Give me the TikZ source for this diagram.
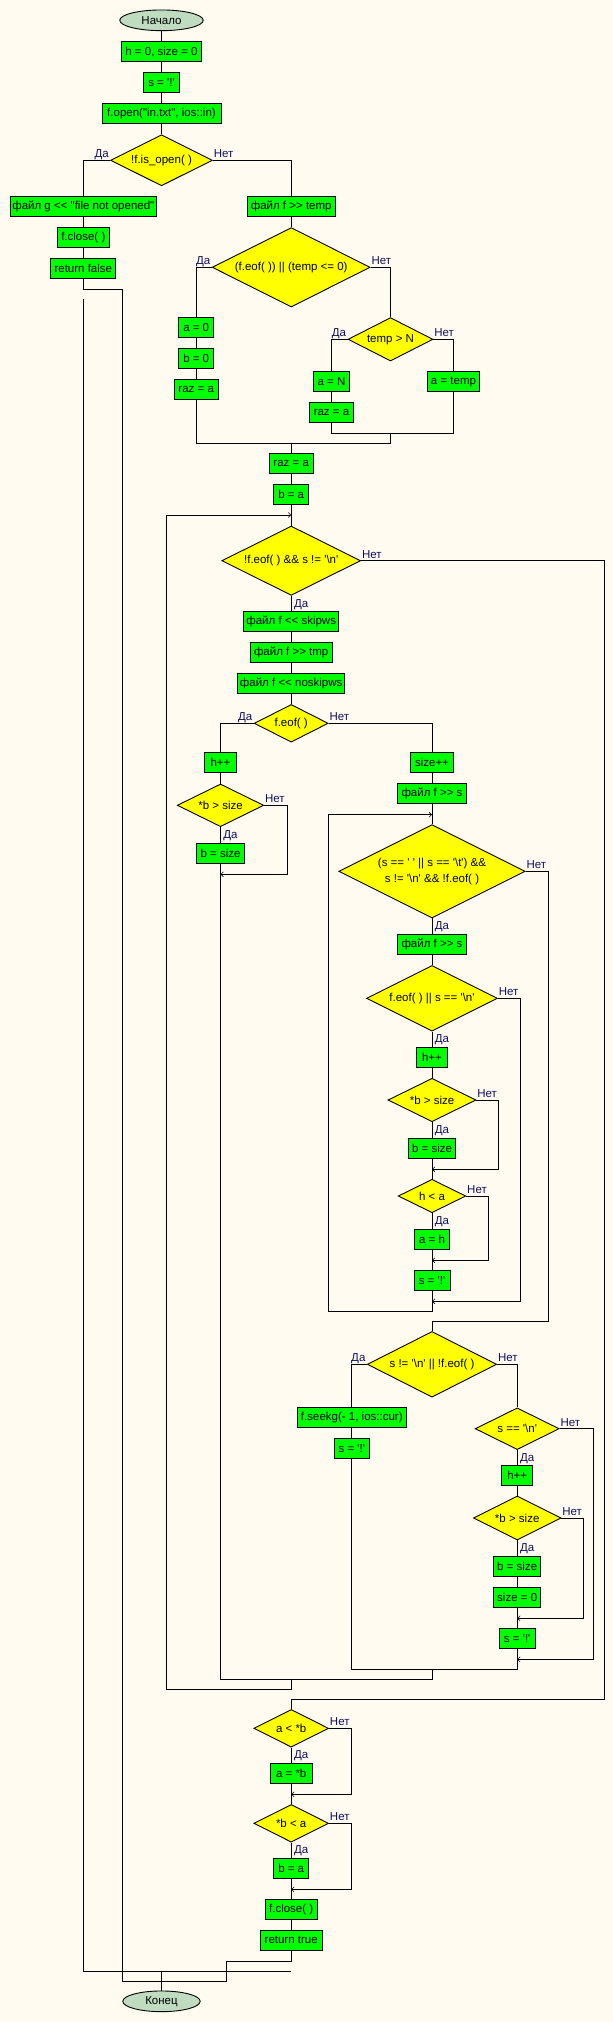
\documentclass[tikz,border=0pt]{standalone}
\usepackage{fontspec}
\setmainfont{Liberation Sans}
\usetikzlibrary{shapes.geometric,arrows.meta}
\definecolor{bgcream}{RGB}{255,251,240}
\definecolor{blockgreen}{RGB}{0,255,0}
\definecolor{condyellow}{RGB}{255,255,0}
\definecolor{termgray}{RGB}{192,220,192}
\definecolor{yesno}{RGB}{16,16,96}
\newcommand\flowfont{\fontsize{11.5}{15.6}\selectfont}
\newcommand\sq{\XeTeXglyph\XeTeXcharglyph39\relax}
\newcommand\dq{\XeTeXglyph\XeTeXcharglyph34\relax}
\newcommand\lt{\XeTeXglyph\XeTeXcharglyph60\relax}
\newcommand\gt{\XeTeXglyph\XeTeXcharglyph62\relax}
\newcommand\bs{\textbackslash}
\begin{document}
\begin{tikzpicture}[x=1pt,y=-1pt,line width=0.9pt,
  >={Straight Barb[length=2.5pt,width=5pt,line width=0.6pt]}]
			\tikzset{
			  BlockStyle/.style = { draw, fill=blockgreen, rectangle, inner sep=0pt,
			                        minimum height=20pt, font=\flowfont },
			  CondStyle/.style = { draw, fill=condyellow, diamond, aspect=2,
			                       inner sep=0pt, align=center, font=\flowfont },
			  TermStyle/.style = { draw, fill=termgray, ellipse, inner sep=0pt,
			                       font=\flowfont },
			  LabelStyle/.style = { font=\flowfont, text=yesno, inner sep=0pt },
			  YesW/.style = { label={[LabelStyle, anchor=base east, xshift=-1pt, yshift=2.5pt]west:Да} },
			  NoE/.style = { label={[LabelStyle, anchor=base west, xshift=0.5pt, yshift=2.5pt]east:Нет} },
			  YesS/.style = { label={[LabelStyle, anchor=north west, xshift=2.5pt, yshift=-3pt]south:Да} } }
			\fill[bgcream] (0,0) rectangle (613,2022);
%			opening the file
			\node[TermStyle, minimum width=83.5pt, minimum height=20.7pt] (start) at (161.5,20.3) {Начало};
			\node[BlockStyle, minimum width=79.3pt] (init1) at (161.5,51.7) {h = 0, size = 0};
			\node[BlockStyle, minimum width=35.5pt] (init2) at (161.5,82.3) {s = \sq!\sq};
			\node[BlockStyle, minimum width=119pt] (fopen) at (161.5,113.5) {f.open(\dq in.txt\dq, ios::in)};
			\node[CondStyle, YesW, NoE, minimum width=101.7pt, minimum height=51pt] (isopen) at (161.5,160.3) {!f.is\_open( )};
			\node[BlockStyle, minimum width=145.8pt] (noopen) at (83.3,206.5) {файл g \lt\lt{} \dq file not opened\dq};
			\node[BlockStyle, minimum width=51.5pt] (closeA) at (83.3,237.5) {f.close( )};
			\node[BlockStyle, minimum width=65pt] (retfalse) at (83.3,268.3) {return false};
			\node[BlockStyle, minimum width=87.5pt] (readtemp) at (291.2,206.5) {файл f \gt\gt{} temp};
			\node[CondStyle, YesW, NoE, minimum width=158pt, minimum height=79.4pt] (badtemp) at (291.2,267.3) {(f.eof( )) || (temp \lt= 0)};
			\node[BlockStyle, minimum width=35pt] (azero) at (196.2,327.3) {a = 0};
			\node[BlockStyle, minimum width=35pt] (bzero) at (196.2,358.3) {b = 0};
			\node[BlockStyle, minimum width=43.7pt] (razA) at (196.2,389.3) {raz = a};
			\node[CondStyle, YesW, NoE, minimum width=85pt, minimum height=43.4pt] (bigtemp) at (390.5,339.3) {temp \gt{} N};
			\node[BlockStyle, minimum width=35.5pt] (aN) at (331.5,381.5) {a = N};
			\node[BlockStyle, minimum width=52.8pt] (atemp) at (453.5,381.5) {a = temp};
			\node[BlockStyle, minimum width=44.2pt] (razB) at (331.5,412.3) {raz = a};
			\node[BlockStyle, minimum width=43.7pt] (razC) at (291.2,463.3) {raz = a};
			\node[BlockStyle, minimum width=35.1pt] (bA) at (291.2,494.3) {b = a};
%			outer loop
			\node[CondStyle, YesS, NoE, minimum width=138.8pt, minimum height=69.3pt] (outer) at (291.2,560.7) {!f.eof( ) \&\& s != \sq\bs n\sq};
			\node[BlockStyle, minimum width=95pt] (skipws) at (291.2,621.3) {файл f \lt\lt{} skipws};
			\node[BlockStyle, minimum width=82.1pt] (readtmp) at (291.2,652.3) {файл f \gt\gt{} tmp};
			\node[BlockStyle, minimum width=107.1pt] (noskipws) at (291.2,683.3) {файл f \lt\lt{} noskipws};
			\node[CondStyle, YesW, NoE, minimum width=74pt, minimum height=37.7pt] (eofA) at (291.2,723.3) {f.eof( )};
			\node[BlockStyle, minimum width=31.2pt] (hincA) at (220.5,762.3) {h++};
			\node[CondStyle, YesS, NoE, minimum width=86.4pt, minimum height=42.7pt] (bsizeA) at (220.5,805.3) {*b \gt{} size};
			\node[BlockStyle, minimum width=47.3pt] (bsetA) at (220.5,853.3) {b = size};
			\node[BlockStyle, minimum width=43pt] (sizeinc) at (432,762.3) {size++};
			\node[BlockStyle, minimum width=69.2pt] (readsA) at (432,793.3) {файл f \gt\gt{} s};
%			inner loop
			\node[CondStyle, YesS, NoE, minimum width=186.5pt, minimum height=93.4pt] (space) at (432,871.3) {(s == \sq\ \sq{} || s == \sq\bs t\sq) \&\&\\ s != \sq\bs n\sq{} \&\& !f.eof( )};
			\node[BlockStyle, minimum width=69.2pt] (readsB) at (432,944.3) {файл f \gt\gt{} s};
			\node[CondStyle, YesS, NoE, minimum width=131pt, minimum height=65.7pt] (eofnl) at (432,998.3) {f.eof( ) || s == \sq\bs n\sq};
			\node[BlockStyle, minimum width=30.9pt] (hincB) at (432,1057.3) {h++};
			\node[CondStyle, YesS, NoE, minimum width=88pt, minimum height=43.4pt] (bsizeB) at (432,1100) {*b \gt{} size};
			\node[BlockStyle, minimum width=47.3pt] (bsetB) at (432,1148.3) {b = size};
			\node[CondStyle, YesS, NoE, minimum width=67.6pt, minimum height=33.4pt] (hless) at (432,1196) {h \lt{} a};
			\node[BlockStyle, minimum width=35.2pt] (aH) at (432,1239.5) {a = h};
			\node[BlockStyle, minimum width=36pt] (sresetA) at (432,1280.3) {s = \sq!\sq};
			\node[CondStyle, YesW, NoE, minimum width=129.4pt, minimum height=65.7pt] (notnl) at (432,1364.3) {s != \sq\bs n\sq{} || !f.eof( )};
			\node[BlockStyle, minimum width=109.1pt] (seekg) at (351.8,1417.3) {f.seekg(- 1, ios::cur)};
			\node[BlockStyle, minimum width=35.5pt] (sresetB) at (351.8,1448.3) {s = \sq!\sq};
			\node[CondStyle, YesS, NoE, minimum width=84pt, minimum height=41.7pt] (isnl) at (517.2,1428.7) {s == \sq\bs n\sq};
			\node[BlockStyle, minimum width=30.9pt] (hincC) at (517.2,1475.7) {h++};
			\node[CondStyle, YesS, NoE, minimum width=87.6pt, minimum height=44pt] (bsizeC) at (517.2,1518) {*b \gt{} size};
			\node[BlockStyle, minimum width=47.3pt] (bsetC) at (517.2,1566.3) {b = size};
			\node[BlockStyle, minimum width=47.3pt] (sizezero) at (517.2,1597.3) {size = 0};
			\node[BlockStyle, minimum width=36pt] (sresetC) at (517.2,1638.3) {s = \sq!\sq};
%			after the loop
			\node[CondStyle, YesS, NoE, minimum width=74.7pt, minimum height=37.7pt] (aless) at (291.2,1728.3) {a \lt{} *b};
			\node[BlockStyle, minimum width=41.6pt] (aB) at (291.2,1773.3) {a = *b};
			\node[CondStyle, YesS, NoE, minimum width=74.7pt, minimum height=37.7pt] (bless) at (291.2,1823.3) {*b \lt{} a};
			\node[BlockStyle, minimum width=35.1pt] (bAA) at (291.2,1868.3) {b = a};
			\node[BlockStyle, minimum width=51.6pt] (closeB) at (291.2,1909.3) {f.close( )};
			\node[BlockStyle, minimum width=62.1pt] (rettrue) at (291.2,1940.3) {return true};
			\node[TermStyle, minimum width=77.4pt, minimum height=20.7pt] (stop) at (161.5,2001.3) {Конец};
			\coordinate (falsebend) at (122.4,289);
			\coordinate (exitgap) at (83.3,299.3);
			\coordinate (exitbar) at (291.2,1971.3);
			\coordinate (exitjoin) at (161.5,1971.3);
			\coordinate (joinin) at (390.5,433.3);
			\coordinate (joinout) at (291.2,443.3);
			\coordinate (outerloop) at (291.2,515);
			\coordinate (outerexit) at (604,1699.3);
			\coordinate (mergeA) at (220.5,874.3);
			\coordinate (innerloop) at (432,814.7);
			\coordinate (mergeB) at (432,1169.3);
			\coordinate (mergeC) at (432,1260.3);
			\coordinate (mergeD) at (432,1301.3);
			\coordinate (mergeE) at (517.2,1618.3);
			\coordinate (mergeF) at (517.2,1659.3);
			\coordinate (branchend) at (432,1669.3);
			\coordinate (bodyend) at (291.2,1679.3);
			\coordinate (mergeG) at (291.2,1794.3);
			\coordinate (mergeH) at (291.2,1889.3);
			\draw (start) -- (init1) -- (init2) -- (fopen) -- (isopen);
			\draw (isopen.west) -| (noopen.north);
			\draw (isopen.east) -| (readtemp.north);
			\draw (noopen) -- (closeA) -- (retfalse);
			\draw (retfalse.south) |- (falsebend) -- (122.4,1981.3) -| (226.7,1961.3) -| (rettrue.south);
			\draw (exitgap) |- (exitbar);
			\draw (exitjoin) -- (stop);
			\draw (readtemp) -- (badtemp);
			\draw (badtemp.west) -| (azero.north);
			\draw (badtemp.east) -| (bigtemp.north);
			\draw (azero) -- (bzero) -- (razA);
			\draw (bigtemp.west) -| (aN.north);
			\draw (bigtemp.east) -| (atemp.north);
			\draw (aN) -- (razB);
			\draw (razB.south) |- (joinin) -| (atemp.south);
			\draw (razA.south) |- (joinout);
			\draw (joinin) |- (joinout) -- (razC);
			\draw (razC) -- (bA) -- (outer);
			\draw (outer.east) -| (outerexit) -| (aless.north);
			\draw (outer) -- (skipws) -- (readtmp) -- (noskipws) -- (eofA);
			\draw (eofA.west) -| (hincA.north);
			\draw (eofA.east) -| (sizeinc.north);
			\draw (hincA) -- (bsizeA) -- (bsetA);
			\draw[->] (bsizeA.east) -| (287,874.3) -- (mergeA);
			\draw (bsetA) -- (mergeA) |- (bodyend);
			\draw (sizeinc) -- (readsA) -- (space);
			\draw (space) -- (readsB) -- (eofnl) -- (hincB) -- (bsizeB) -- (bsetB) -- (hless) -- (aH) -- (sresetA);
			\draw[->] (bsizeB.east) -| (498.4,1169.3) -- (mergeB);
			\draw[->] (hless.east) -| (488.7,1260.3) -- (mergeC);
			\draw[->] (eofnl.east) -| (520.7,1301.3) -- (mergeD);
			\draw[->] (sresetA.south) -- (432,1311.3) -| (328.4,814.7) -- (innerloop);
			\draw (space.east) -| (548.5,1321.3) -| (notnl.north);
			\draw (notnl.west) -| (seekg.north);
			\draw (notnl.east) -| (isnl.north);
			\draw (seekg) -- (sresetB);
			\draw (isnl) -- (hincC) -- (bsizeC) -- (bsetC) -- (sizezero) -- (sresetC);
			\draw[->] (bsizeC.east) -| (583.7,1618.3) -- (mergeE);
			\draw[->] (isnl.east) -| (593.4,1659.3) -- (mergeF);
			\draw (sresetC) -- (mergeF) |- (branchend);
			\draw (sresetB.south) |- (branchend);
			\draw (branchend) |- (bodyend);
			\draw[->] (bodyend) |- (166.5,1689.3) |- (outerloop);
			\draw (aless) -- (aB) -- (bless) -- (bAA) -- (closeB) -- (rettrue);
			\draw[->] (aless.east) -| (351.5,1794.3) -- (mergeG);
			\draw[->] (bless.east) -| (351.5,1889.3) -- (mergeH);
\end{tikzpicture}
\end{document}
